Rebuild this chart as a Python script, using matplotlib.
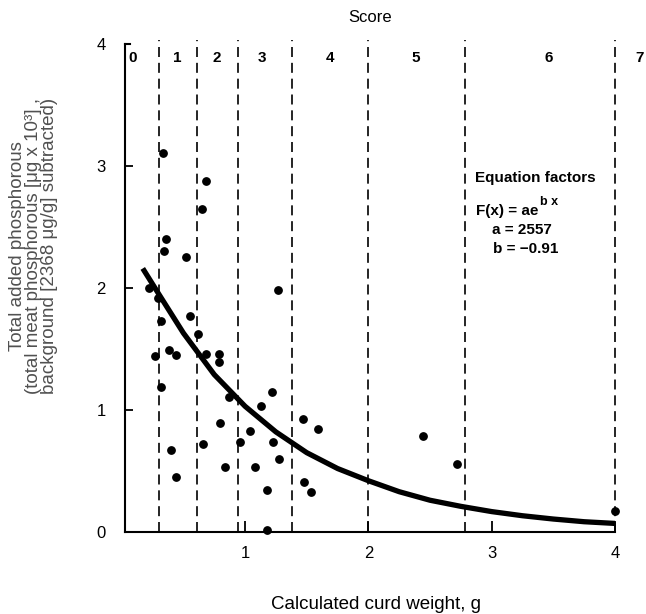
import matplotlib.pyplot as plt

plt.rcParams['font.family'] = ['Liberation Sans', 'DejaVu Sans']

# score band boundaries on the curd weight axis (g)
score_edges = [0.30, 0.61, 0.94, 1.38, 2.0, 2.78, 4.0]
score_labels = ['0', '1', '2', '3', '4', '5', '6', '7']
score_label_x = [0.09, 0.45, 0.77, 1.14, 1.69, 2.38, 3.46, 4.20]

# samples: calculated curd weight (g) vs total added phosphorous (ug x 10^3)
curd_weight = [0.337, 0.68, 0.654, 0.36, 0.343, 0.52, 1.265, 0.22, 0.29,
               0.316, 0.55, 0.62, 0.38, 0.27, 0.44, 0.32, 0.40, 0.44,
               0.68, 0.79, 0.79, 0.873, 0.66, 0.80, 0.84, 0.96, 1.04,
               1.08, 1.13, 1.22, 1.225, 1.275, 1.175, 1.175, 1.47, 1.59,
               1.48, 1.535, 2.44, 2.72, 4.0]
phosphorous = [3.11, 2.88, 2.65, 2.40, 2.30, 2.25, 1.98, 2.00, 1.92,
               1.73, 1.77, 1.62, 1.49, 1.44, 1.45, 1.19, 0.67, 0.45,
               1.46, 1.46, 1.39, 1.11, 0.72, 0.89, 0.53, 0.735, 0.825,
               0.535, 1.03, 1.15, 0.735, 0.60, 0.344, 0.02, 0.93, 0.84,
               0.41, 0.33, 0.79, 0.555, 0.17]

# fitted curve F(x) = a e^(bx)
fit_x = [0.17, 0.3, 0.5, 0.75, 1.0, 1.25, 1.5, 1.75, 2.0, 2.25, 2.5,
         2.75, 3.0, 3.25, 3.5, 3.75, 4.0]
fit_y = [2.16, 1.95, 1.63, 1.29, 1.03, 0.82, 0.65, 0.52, 0.42, 0.33, 0.26,
         0.21, 0.167, 0.133, 0.106, 0.084, 0.07]

fig = plt.figure(figsize=(6.46, 6.14), dpi=100)
ax = fig.add_axes([0.1935, 0.1336, 0.7585, 0.7948])
ax.set_xlim(0.026, 4.0)
ax.set_ylim(0, 4)

ax.spines['right'].set_visible(False)
ax.spines['top'].set_bounds(0.026, 0.07)
for side in ['left', 'bottom', 'top']:
    ax.spines[side].set_linewidth(1.5)

ax.vlines(score_edges, 0, 4.03, colors='black', linewidth=1.2,
          linestyles=(0, (6, 3.5)), clip_on=False)

ax.plot(fit_x, fit_y, color='black', linewidth=3.8, solid_capstyle='butt')
ax.scatter(curd_weight, phosphorous, s=28, color='black', zorder=3,
           clip_on=False)

for lx, lab in zip(score_label_x, score_labels):
    ax.text(lx, 3.885, lab, ha='center', va='center', fontsize=11,
            fontweight='bold', clip_on=False)

ax.text(2.865, 2.90, 'Equation factors', ha='left', va='center',
        fontsize=11, fontweight='bold')
t = ax.text(2.875, 2.63, 'F(x) = ae', ha='left', va='center',
            fontsize=11, fontweight='bold')
ax.annotate('b x', xy=(1.0, 0.75), xycoords=t, xytext=(1, 0),
            textcoords='offset points', ha='left', va='bottom',
            fontsize=9, fontweight='bold')
ax.text(3.0, 2.475, 'a = 2557', ha='left', va='center', fontsize=11,
        fontweight='bold')
ax.text(3.01, 2.32, 'b = \u22120.91', ha='left', va='center', fontsize=11,
        fontweight='bold')

ax.set_xticks([1, 2, 3, 4])
ax.set_yticks([0, 1, 2, 3, 4])
ax.tick_params(axis='x', direction='in', length=8, width=1.3, pad=10,
               labelsize=12)
ax.tick_params(axis='y', direction='in', length=6, width=1.3, pad=14,
               labelsize=12)
for tk in [ax.yaxis.get_major_ticks()[0], ax.yaxis.get_major_ticks()[-1]]:
    tk.tick1line.set_visible(False)

fig.text(0.5728, 0.971, 'Score', ha='center', va='center', fontsize=12)
fig.text(0.582, 0.015, 'Calculated curd weight, g', ha='center',
         va='center', fontsize=13.5)
fig.text(0.052, 0.60,
         'Total added phosphorous\n'
         '(total meat phosphorous [\u03bcg x 10\u00b3] ,\n'
         'background [2368 \u03bcg/g] subtracted)',
         ha='center', va='center', rotation=90, fontsize=13.5,
         linespacing=0.95, color='#505050')

fig.savefig('out.png', dpi=100)
